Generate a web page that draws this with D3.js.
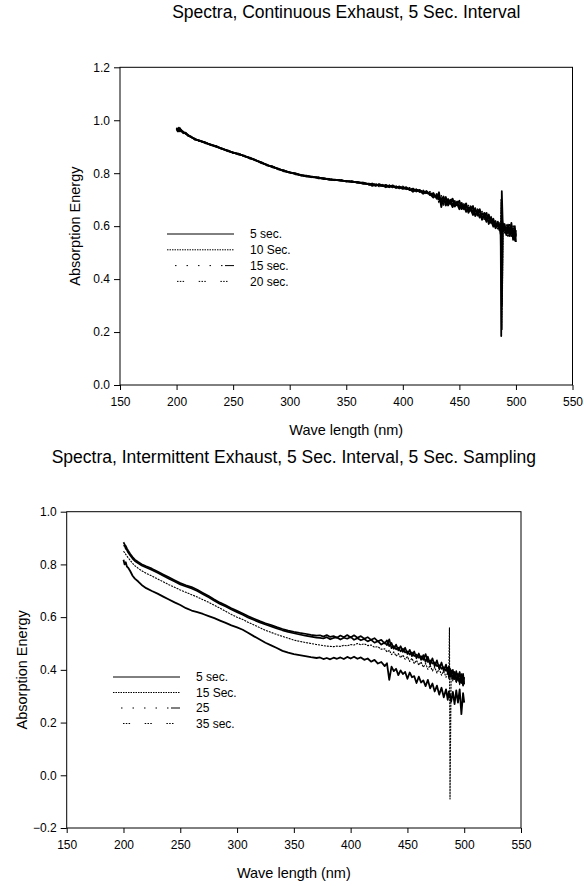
<!DOCTYPE html>
<html><head><meta charset="utf-8">
<script src="https://cdn.jsdelivr.net/npm/d3@7/dist/d3.min.js"></script>
<style>
body{margin:0;background:#fff}
svg text{font-family:"Liberation Sans",Arial,Helvetica,sans-serif;fill:#000}
</style>
</head><body>
<svg id="c" width="584" height="886"></svg>
<script>
// ---------- DATA ----------
const wavelengths = [
  200,201,202,203,204,
  206,208,210,213,216,
  220,225,230,235,240,245,250,255,260,265,
  270,275,280,285,290,295,300,305,310,315,
  320,325,330,335,340,345,350,355,360,365,370,
  373,376,379,382,385,388,391,394,397,400,
  403,406,409,412,415,418,421,424,427,430,
  432,434,436,438,440,442,444,446,448,450,
  452,454,456,458,460,462,464,466,468,470,
  472,474,476,478,480,482,484,
  485.5,486.5,487,487.5,488.5,
  490,491.5,493,494.5,496,497.5,499,500
];

// Top chart: Continuous Exhaust
const topSeriesNames = ["5 sec.","10 Sec.","15 sec.","20 sec."];
const cont5 = [
  0.968,0.958,0.972,0.962,0.964,
  0.955,0.950,0.944,0.937,0.929,
  0.923,0.916,0.908,0.901,0.893,0.885,0.878,0.872,0.865,0.857,
  0.849,0.840,0.831,0.824,0.816,0.809,0.803,0.798,0.793,0.789,
  0.786,0.783,0.780,0.777,0.775,0.773,0.770,0.768,0.766,0.762,0.759,
  0.761,0.754,0.757,0.751,0.756,0.749,0.752,0.744,0.750,0.743,
  0.747,0.736,0.742,0.731,0.737,0.726,0.733,0.717,0.725,0.703,
  0.728,0.672,0.706,0.690,0.703,0.684,0.698,0.679,0.693,0.672,
  0.688,0.664,0.680,0.656,0.675,0.652,0.668,0.640,0.660,0.628,
  0.650,0.624,0.644,0.612,0.628,0.598,0.617,
  0.590,0.610,0.185,0.732,0.580,
  0.608,0.566,0.596,0.572,0.612,0.548,0.590,0.560
];
const cont10 = [
  0.962,0.970,0.958,0.967,0.958,
  0.957,0.948,0.946,0.935,0.931,
  0.921,0.918,0.906,0.903,0.891,0.887,0.876,0.874,0.863,0.859,
  0.847,0.842,0.829,0.826,0.814,0.811,0.801,0.800,0.791,0.791,
  0.784,0.785,0.778,0.779,0.773,0.775,0.768,0.770,0.763,0.765,0.756,
  0.755,0.760,0.750,0.757,0.749,0.755,0.746,0.751,0.742,0.750,
  0.738,0.745,0.733,0.740,0.728,0.735,0.722,0.730,0.712,0.722,
  0.690,0.715,0.680,0.705,0.686,0.700,0.680,0.696,0.676,0.690,
  0.668,0.684,0.660,0.678,0.655,0.672,0.648,0.664,0.636,0.655,
  0.626,0.646,0.616,0.636,0.604,0.620,0.590,
  0.612,0.588,0.700,0.210,0.602,
  0.575,0.604,0.560,0.608,0.562,0.600,0.545,0.575
];
const cont15 = [
  0.972,0.963,0.966,0.970,0.960,
  0.953,0.951,0.942,0.938,0.927,
  0.924,0.914,0.909,0.899,0.894,0.883,0.879,0.870,0.866,0.855,
  0.850,0.838,0.832,0.822,0.817,0.807,0.804,0.796,0.794,0.787,
  0.787,0.781,0.781,0.775,0.776,0.771,0.771,0.766,0.767,0.760,0.761,
  0.752,0.758,0.753,0.754,0.747,0.753,0.748,0.749,0.745,0.746,
  0.741,0.739,0.737,0.735,0.731,0.731,0.725,0.724,0.718,0.712,
  0.704,0.698,0.712,0.678,0.696,0.690,0.672,0.690,0.684,0.664,
  0.680,0.676,0.654,0.670,0.663,0.642,0.660,0.652,0.632,0.648,
  0.638,0.616,0.634,0.622,0.598,0.612,0.604,
  0.584,0.600,0.420,0.640,0.588,
  0.592,0.580,0.576,0.590,0.575,0.568,0.600,0.540
];
const cont20 = [
  0.965,0.966,0.960,0.958,0.962,
  0.951,0.953,0.943,0.936,0.930,
  0.922,0.917,0.907,0.902,0.892,0.886,0.877,0.873,0.864,0.858,
  0.848,0.841,0.830,0.825,0.815,0.810,0.802,0.799,0.792,0.790,
  0.785,0.784,0.779,0.778,0.774,0.774,0.769,0.769,0.764,0.764,0.758,
  0.758,0.752,0.759,0.753,0.752,0.747,0.754,0.746,0.747,0.741,
  0.744,0.740,0.730,0.738,0.733,0.722,0.730,0.721,0.708,0.718,
  0.708,0.690,0.694,0.710,0.678,0.694,0.704,0.674,0.686,0.696,
  0.664,0.676,0.686,0.650,0.666,0.676,0.638,0.656,0.664,0.624,
  0.642,0.650,0.608,0.630,0.618,0.592,0.610,
  0.602,0.570,0.600,0.300,0.610,
  0.586,0.572,0.606,0.562,0.586,0.578,0.556,0.585
];

// Bottom chart: Intermittent Exhaust
const bottomSeriesNames = ["5 sec.","15 Sec.","25","35 sec."];
const inter5 = [
  0.818,0.800,0.808,0.792,0.788,
  0.774,0.757,0.746,0.735,0.722,
  0.710,0.699,0.689,0.678,0.667,0.656,0.646,0.634,0.625,0.619,
  0.612,0.604,0.596,0.587,0.578,0.569,0.561,0.552,0.540,0.527,
  0.515,0.503,0.493,0.483,0.472,0.465,0.460,0.456,0.452,0.448,0.445,
  0.447,0.441,0.445,0.440,0.446,0.442,0.447,0.441,0.449,0.443,
  0.450,0.442,0.447,0.438,0.443,0.431,0.438,0.424,0.430,0.414,
  0.425,0.362,0.412,0.395,0.404,0.380,0.398,0.384,0.392,0.366,
  0.390,0.372,0.376,0.350,0.374,0.352,0.360,0.338,0.362,0.330,
  0.348,0.318,0.340,0.306,0.332,0.296,0.326,
  0.286,0.318,0.296,0.306,0.280,
  0.316,0.270,0.322,0.276,0.326,0.232,0.312,0.276
];
const inter15 = [
  0.850,0.845,0.838,0.832,0.826,
  0.815,0.804,0.795,0.785,0.776,
  0.766,0.756,0.745,0.734,0.723,0.713,0.703,0.694,0.685,0.676,
  0.666,0.656,0.645,0.634,0.622,0.610,0.600,0.591,0.580,0.570,
  0.560,0.550,0.542,0.534,0.527,0.520,0.513,0.508,0.504,0.500,0.496,
  0.494,0.492,0.490,0.489,0.488,0.490,0.489,0.493,0.491,0.496,
  0.494,0.500,0.495,0.499,0.492,0.494,0.486,0.488,0.478,0.480,
  0.468,0.474,0.458,0.468,0.452,0.462,0.446,0.456,0.440,0.450,
  0.432,0.444,0.424,0.436,0.418,0.430,0.410,0.424,0.402,0.418,
  0.396,0.410,0.388,0.404,0.380,0.396,0.372,
  0.390,0.366,0.560,-0.090,0.380,
  0.358,0.378,0.350,0.372,0.344,0.366,0.340,0.356
];
const inter25 = [
  0.884,0.876,0.870,0.861,0.853,
  0.840,0.828,0.818,0.809,0.801,
  0.793,0.784,0.773,0.762,0.751,0.740,0.729,0.721,0.714,0.704,
  0.692,0.680,0.667,0.655,0.645,0.634,0.624,0.614,0.603,0.594,
  0.585,0.577,0.570,0.562,0.555,0.549,0.544,0.540,0.537,0.533,0.530,
  0.531,0.526,0.532,0.525,0.528,0.522,0.530,0.524,0.532,0.523,
  0.531,0.522,0.528,0.518,0.524,0.514,0.520,0.508,0.514,0.500,
  0.512,0.490,0.502,0.480,0.496,0.474,0.490,0.468,0.484,0.460,
  0.476,0.452,0.470,0.444,0.462,0.438,0.456,0.430,0.450,0.420,
  0.444,0.414,0.436,0.404,0.428,0.396,0.420,
  0.388,0.412,0.380,0.405,0.378,
  0.400,0.365,0.395,0.360,0.392,0.350,0.385,0.345
];
const inter35 = [
  0.870,0.872,0.860,0.855,0.846,
  0.834,0.822,0.813,0.804,0.796,
  0.788,0.779,0.768,0.757,0.746,0.735,0.724,0.716,0.709,0.699,
  0.687,0.675,0.662,0.650,0.640,0.629,0.619,0.609,0.598,0.589,
  0.580,0.572,0.565,0.557,0.550,0.544,0.539,0.534,0.530,0.526,0.522,
  0.521,0.519,0.524,0.516,0.521,0.523,0.515,0.522,0.518,0.525,
  0.514,0.520,0.512,0.517,0.508,0.514,0.503,0.509,0.496,0.504,
  0.494,0.516,0.482,0.490,0.478,0.484,0.470,0.480,0.466,0.470,
  0.458,0.466,0.452,0.458,0.446,0.452,0.438,0.460,0.430,0.436,
  0.424,0.428,0.414,0.418,0.404,0.410,0.396,
  0.408,0.380,0.400,0.372,0.398,
  0.366,0.392,0.358,0.386,0.350,0.384,0.340,0.372
];

const xTickValues = [150,200,250,300,350,400,450,500,550];
const yTickValuesTop = [0.0,0.2,0.4,0.6,0.8,1.0,1.2];
const yTickValuesBottom = [-0.2,0.0,0.2,0.4,0.6,0.8,1.0];

// ---------- STYLES ----------
const legendDash = [
  {dash:null, offset:0},
  {dash:"1.5,1", offset:0},
  {dash:"1.5,10,1.5,10,1.5,10,1.5,10,1.5,2.5,9,8", offset:59},
  {dash:"1.5,1.3,1.5,1.3,1.5,14.6", offset:11.7}
];

const svg = d3.select("#c");

function panel(cfg) {
  const x = d3.scaleLinear().domain([150,550]).range([cfg.left, cfg.right]);
  const y = d3.scaleLinear().domain(cfg.yDomain).range([cfg.bottom, cfg.top]);
  const g = svg.append("g");

  g.append("text").attr("x", (cfg.left+cfg.right)/2).attr("y", cfg.titleY)
    .attr("text-anchor","middle").style("font-size","17.5px").text(cfg.title);

  const xa = g.append("g").attr("transform",`translate(0,${cfg.bottom})`)
    .call(d3.axisBottom(x).tickValues(xTickValues).tickFormat(d3.format("d"))
      .tickSize(5).tickPadding(7));
  const ya = g.append("g").attr("transform",`translate(${cfg.left},0)`)
    .call(d3.axisLeft(y).tickValues(cfg.yTicks).tickFormat(d3.format(".1f"))
      .tickSize(6).tickPadding(4));
  [xa, ya].forEach(a => {
    a.select(".domain").remove();
    a.selectAll("line").attr("stroke","#000");
    a.selectAll("text").style("font-size","12px").attr("fill","#000");
  });

  g.append("rect").attr("x",cfg.left).attr("y",cfg.top)
    .attr("width",cfg.right-cfg.left).attr("height",cfg.bottom-cfg.top)
    .attr("fill","none").attr("stroke","#000").attr("stroke-width",1);

  g.append("text").attr("x",(cfg.left+cfg.right)/2).attr("y",cfg.bottom+50)
    .attr("text-anchor","middle").style("font-size","14.5px").text("Wave length (nm)");
  g.append("text")
    .attr("transform",`translate(${cfg.left-40},${(cfg.top+cfg.bottom)/2}) rotate(-90)`)
    .attr("text-anchor","middle").style("font-size","14.5px").text("Absorption Energy");

  const line = d3.line().x(d=>x(d[0])).y(d=>y(d[1]));
  cfg.series.forEach((s,i) => {
    const pts = wavelengths.map((w,k)=>[w,s[k]]).filter(d=>d[1]!==undefined);
    const st = cfg.plotStyle[i];
    const p = g.append("path").datum(pts).attr("d",line)
      .attr("fill","none").attr("stroke","#000").attr("stroke-width",st.sw)
      .attr("stroke-linejoin","round");
    if (st.dash) p.attr("stroke-dasharray",st.dash);
  });

  cfg.names.forEach((n,i) => {
    const yy = cfg.legY + i*cfg.legStep;
    const l = g.append("line").attr("x1",cfg.legX).attr("x2",cfg.legX+67)
      .attr("y1",yy).attr("y2",yy).attr("stroke","#000").attr("stroke-width",1);
    if (legendDash[i].dash) l.attr("stroke-dasharray",legendDash[i].dash)
      .attr("stroke-dashoffset",legendDash[i].offset);
    g.append("text").attr("x",cfg.legX+83).attr("y",yy).attr("dy","0.36em")
      .style("font-size","12px").text(n);
  });
}

panel({
  title:"Spectra, Continuous Exhaust, 5 Sec. Interval", titleY:18,
  left:120, right:572.5, top:67.3, bottom:385,
  yDomain:[0,1.2], yTicks:yTickValuesTop,
  series:[cont5,cont10,cont15,cont20], names:topSeriesNames,
  plotStyle:[{sw:1.8},{sw:1.6,dash:"2,0.6"},{sw:1.8},{sw:1.8}],
  legX:167, legY:234, legStep:15.8
});
panel({
  title:"Spectra, Intermittent Exhaust, 5 Sec. Interval, 5 Sec. Sampling", titleY:462.5,
  left:66.7, right:521, top:511.7, bottom:828,
  yDomain:[-0.2,1.0], yTicks:yTickValuesBottom,
  series:[inter5,inter15,inter25,inter35], names:bottomSeriesNames,
  plotStyle:[{sw:1.8},{sw:1.1,dash:"2,1"},{sw:1.7},{sw:1.7}],
  legX:113, legY:677, legStep:15.5
});
</script>
</body></html>
